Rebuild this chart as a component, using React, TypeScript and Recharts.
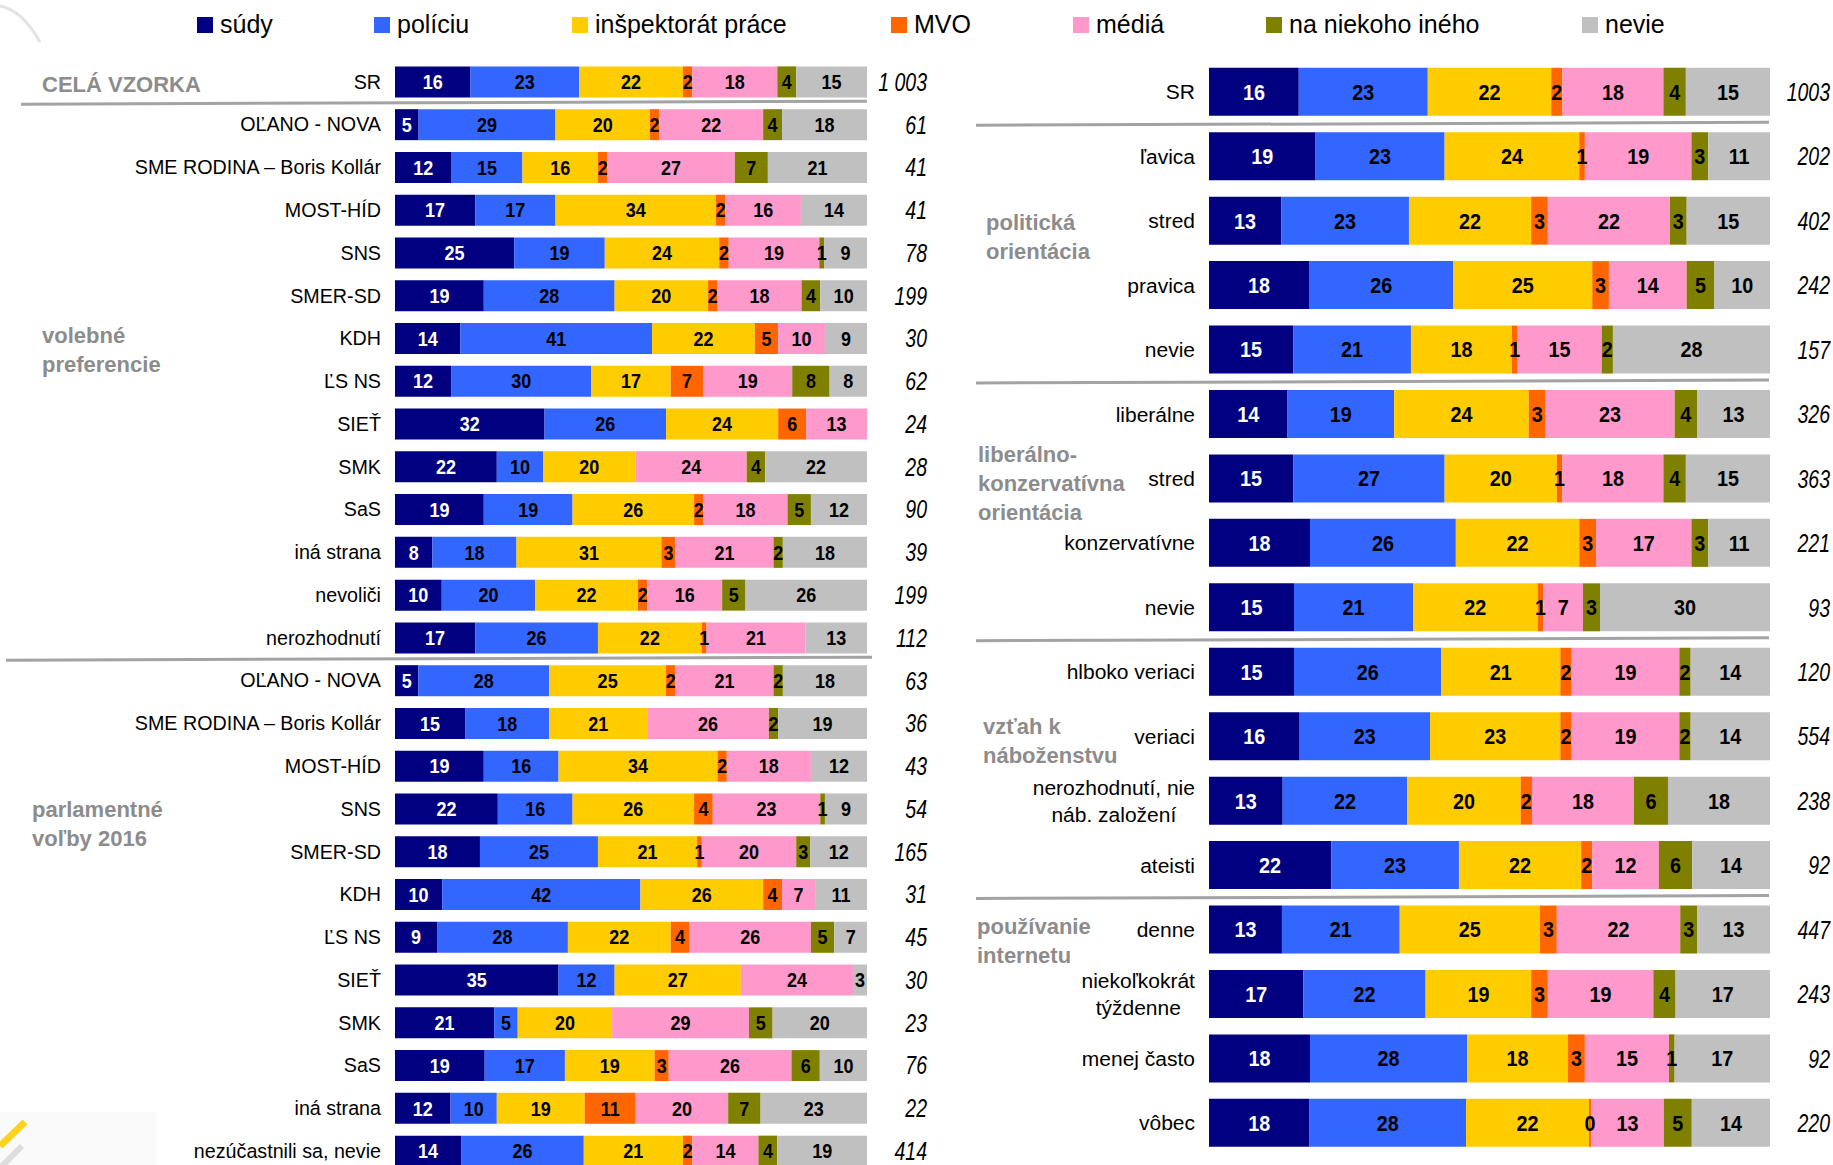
import React from "react";
import { BarChart, Bar, XAxis, YAxis, LabelList } from "recharts";

const seriesNames = ["súdy", "políciu", "inšpektorát práce", "MVO", "médiá", "na niekoho iného", "nevie"];
const seriesColors = ["#000080", "#3366FF", "#FFCC00", "#FF6600", "#FF99CC", "#808000", "#C0C0C0"];
const valueColors = ["#ffffff", "#000000", "#000000", "#000000", "#000000", "#000000", "#000000"];
const seriesKeys = ["sudy", "policiu", "inspektorat", "mvo", "media", "ine", "nevie"];

// left panel: whole sample, voting preferences, 2016 elections
const leftLabels = [
  "SR",
  "OĽANO - NOVA", "SME RODINA – Boris Kollár", "MOST-HÍD", "SNS", "SMER-SD", "KDH", "ĽS NS",
  "SIEŤ", "SMK", "SaS", "iná strana", "nevoliči", "nerozhodnutí",
  "OĽANO - NOVA", "SME RODINA – Boris Kollár", "MOST-HÍD", "SNS", "SMER-SD", "KDH", "ĽS NS",
  "SIEŤ", "SMK", "SaS", "iná strana", "nezúčastnili sa, nevie",
];
const leftN = ["1 003", "61", "41", "41", "78", "199", "30", "62", "24", "28", "90", "39", "199", "112",
  "63", "36", "43", "54", "165", "31", "45", "30", "23", "76", "22", "414"];
const leftSudy = [16, 5, 12, 17, 25, 19, 14, 12, 32, 22, 19, 8, 10, 17, 5, 15, 19, 22, 18, 10, 9, 35, 21, 19, 12, 14];
const leftPoliciu = [23, 29, 15, 17, 19, 28, 41, 30, 26, 10, 19, 18, 20, 26, 28, 18, 16, 16, 25, 42, 28, 12, 5, 17, 10, 26];
const leftInspektorat = [22, 20, 16, 34, 24, 20, 22, 17, 24, 20, 26, 31, 22, 22, 25, 21, 34, 26, 21, 26, 22, 27, 20, 19, 19, 21];
const leftMvo = [2, 2, 2, 2, 2, 2, 5, 7, 6, 0, 2, 3, 2, 1, 2, 0, 2, 4, 1, 4, 4, 0, 0, 3, 11, 2];
const leftMedia = [18, 22, 27, 16, 19, 18, 10, 19, 13, 24, 18, 21, 16, 21, 21, 26, 18, 23, 20, 7, 26, 24, 29, 26, 20, 14];
const leftIne = [4, 4, 7, 0, 1, 4, 0, 8, 0, 4, 5, 2, 5, 0, 2, 2, 0, 1, 3, 0, 5, 0, 5, 6, 7, 4];
const leftNevie = [15, 18, 21, 14, 9, 10, 9, 8, 0, 22, 12, 18, 26, 13, 18, 19, 12, 9, 12, 11, 7, 3, 20, 10, 23, 19];

// right panel: political / value orientation, religion, internet use
const rightLabels = [
  "SR", "ľavica", "stred", "pravica", "nevie", "liberálne", "stred", "konzervatívne", "nevie",
  "hlboko veriaci", "veriaci", "nerozhodnutí, nie\nnáb. založení", "ateisti",
  "denne", "niekoľkokrát\ntýždenne", "menej často", "vôbec",
];
const rightN = ["1003", "202", "402", "242", "157", "326", "363", "221", "93", "120", "554", "238", "92", "447", "243", "92", "220"];
const rightSudy = [16, 19, 13, 18, 15, 14, 15, 18, 15, 15, 16, 13, 22, 13, 17, 18, 18];
const rightPoliciu = [23, 23, 23, 26, 21, 19, 27, 26, 21, 26, 23, 22, 23, 21, 22, 28, 28];
const rightInspektorat = [22, 24, 22, 25, 18, 24, 20, 22, 22, 21, 23, 20, 22, 25, 19, 18, 22];
const rightMvo = [2, 1, 3, 3, 1, 3, 1, 3, 1, 2, 2, 2, 2, 3, 3, 3, 0.4];
const rightMedia = [18, 19, 22, 14, 15, 23, 18, 17, 7, 19, 19, 18, 12, 22, 19, 15, 13];
const rightIne = [4, 3, 3, 5, 2, 4, 4, 3, 3, 2, 2, 6, 6, 3, 4, 1, 5];
const rightNevie = [15, 11, 15, 10, 28, 13, 15, 11, 30, 14, 14, 18, 14, 13, 17, 17, 14];

const leftGroups = [
  { lines: ["CELÁ VZORKA"], x: 42, y: 92 },
  { lines: ["volebné", "preferencie"], x: 42, y: 343 },
  { lines: ["parlamentné", "voľby 2016"], x: 32, y: 817 },
];
const rightGroups = [
  { lines: ["politická", "orientácia"], x: 986, y: 230 },
  { lines: ["liberálno-", "konzervatívna", "orientácia"], x: 978, y: 462 },
  { lines: ["vzťah k", "náboženstvu"], x: 983, y: 734 },
  { lines: ["používanie", "internetu"], x: 977, y: 934 },
];
// separator after these row counts
const leftBreaks = [1, 14];
const rightBreaks = [1, 5, 9, 13];

const legendX = [197, 374, 572, 891, 1073, 1266, 1582];

const FONT = '"Liberation Sans", Arial, sans-serif';
const L = { left: 0, width: 935, axis: 395, nAxis: 68, top: 60.4, band: 42.77, bar: 31, label: 19.7, value: 20 };
const R = { left: 935, width: 898, axis: 274, nAxis: 63, top: 59.8, band: 64.44, bar: 48, label: 21, value: 22 };

function buildRows(labels: string[], cols: number[][]) {
  return labels.map((_, i) => {
    const row: Record<string, number | string> = { id: String(i) };
    seriesKeys.forEach((k, s) => (row[k] = cols[s][i]));
    return row;
  });
}

const leftCols = [leftSudy, leftPoliciu, leftInspektorat, leftMvo, leftMedia, leftIne, leftNevie];
const rightCols = [rightSudy, rightPoliciu, rightInspektorat, rightMvo, rightMedia, rightIne, rightNevie];
const leftData = buildRows(leftLabels, leftCols);
const rightData = buildRows(rightLabels, rightCols);

let ctx: CanvasRenderingContext2D | null = null;
function measure(text: string, font: string) {
  if (!ctx) ctx = document.createElement("canvas").getContext("2d");
  if (!ctx) return text.length * 10;
  ctx.font = font;
  return ctx.measureText(text).width;
}

function RowTick(props: any) {
  const { x, y, payload, labels, size } = props;
  const lines: string[] = labels[Number(payload.value)].split("\n");
  if (lines.length === 1) {
    return (
      <text x={x} y={y} dy="0.35em" textAnchor="end" fontSize={size} fill="#000">
        {lines[0]}
      </text>
    );
  }
  const w = Math.max(...lines.map((l) => measure(l, `${size}px ${FONT}`)));
  const cx = x - w / 2;
  return (
    <text textAnchor="middle" fontSize={size} fill="#000">
      {lines.map((l, i) => (
        <tspan key={i} x={cx} y={y - 6 + i * 27}>
          {l}
        </tspan>
      ))}
    </text>
  );
}

function NTick(props: any) {
  const { x, y, payload, values, offset } = props;
  return (
    <text
      transform={`translate(${x + offset},${y}) scale(0.78,1)`}
      dy="0.36em"
      textAnchor="end"
      fontSize={25}
      fontStyle="italic"
      fill="#000"
    >
      {values[Number(payload.value)]}
    </text>
  );
}

function makeValueLabel(color: string, size: number) {
  return (props: any) => {
    const vb = props.viewBox && props.viewBox.width !== undefined ? props.viewBox : props;
    const { x, y, width, height } = vb;
    const v = Number(props.value);
    if (!(v > 0)) return null;
    return (
      <text
        transform={`translate(${x + width / 2},${y + height / 2}) scale(0.9,1)`}
        dy="0.36em"
        textAnchor="middle"
        fontSize={size}
        fontWeight="bold"
        fill={color}
      >
        {Math.round(v)}
      </text>
    );
  };
}

function Panel({ data, labels, nValues, cfg }: any) {
  const height = cfg.top + labels.length * cfg.band;
  return (
    <div style={{ position: "absolute", left: cfg.left, top: 0 }}>
      <BarChart
        width={cfg.width}
        height={height}
        data={data}
        layout="vertical"
        stackOffset="expand"
        barSize={cfg.bar}
        margin={{ top: cfg.top, right: 0, bottom: 0, left: 0 }}
      >
        <XAxis type="number" hide domain={[0, 1]} />
        <YAxis
          yAxisId="l"
          type="category"
          dataKey="id"
          width={cfg.axis}
          axisLine={false}
          tickLine={false}
          tickSize={0}
          tickMargin={14}
          interval={0}
          tick={(p: any) => <RowTick {...p} labels={labels} size={cfg.label} />}
        />
        <YAxis
          yAxisId="r"
          orientation="right"
          type="category"
          dataKey="id"
          width={cfg.nAxis}
          axisLine={false}
          tickLine={false}
          tickSize={0}
          tickMargin={0}
          interval={0}
          tick={(p: any) => <NTick {...p} values={nValues} offset={60} />}
        />
        {seriesKeys.map((k, s) => (
          <Bar key={k} dataKey={k} name={seriesNames[s]} stackId="a" yAxisId="l" fill={seriesColors[s]} isAnimationActive={false}>
            <LabelList dataKey={k} content={makeValueLabel(valueColors[s], cfg.value)} />
          </Bar>
        ))}
      </BarChart>
    </div>
  );
}

function Overlay() {
  const groupText = (g: any, i: number) => (
    <text key={i} x={g.x} y={g.y} fontSize={22} fontWeight="bold" fill="#8c8c8c">
      {g.lines.map((l: string, j: number) => (
        <tspan key={j} x={g.x} y={g.y + j * 29}>
          {l}
        </tspan>
      ))}
    </text>
  );
  return (
    <svg width={1833} height={1165} style={{ position: "absolute", left: 0, top: 0, pointerEvents: "none" }}>
      {/* corner decorations */}
      <path d="M0,6 Q22,10 40,42" stroke="#e3e3e3" strokeWidth={3} fill="none" />
      <rect x={0} y={1112} width={157} height={53} fill="#fafafa" />
      <line x1={0} y1={1146} x2={25} y2={1122} stroke="#ffd21f" strokeWidth={7} />
      <line x1={0} y1={1168} x2={22} y2={1146} stroke="#dddddd" strokeWidth={6} />
      {seriesNames.map((n, i) => (
        <g key={n}>
          <rect x={legendX[i]} y={17} width={16} height={16} fill={seriesColors[i]} />
          <text x={legendX[i] + 23} y={33} fontSize={25} fill="#000">
            {n}
          </text>
        </g>
      ))}
      {leftBreaks.map((b, i) => {
        const y = L.top + b * L.band;
        return <line key={i} x1={i === 0 ? 21 : 6} y1={y + 1} x2={i === 0 ? 867 : 872} y2={y - 2} stroke="#a3a3a3" strokeWidth={3} />;
      })}
      {rightBreaks.map((b, i) => {
        const y = R.top + b * R.band;
        return <line key={i} x1={976} y1={y + 1} x2={1769} y2={y - 2} stroke="#a3a3a3" strokeWidth={3} />;
      })}
      {leftGroups.map(groupText)}
      {rightGroups.map(groupText)}
    </svg>
  );
}

export default function App() {
  return (
    <div
      style={{
        position: "fixed",
        left: 0,
        top: 0,
        width: 1833,
        height: 1165,
        overflow: "hidden",
        background: "#fff",
        fontFamily: FONT,
      }}
    >
      <Panel data={leftData} labels={leftLabels} nValues={leftN} cfg={L} />
      <Panel data={rightData} labels={rightLabels} nValues={rightN} cfg={R} />
      <Overlay />
    </div>
  );
}
